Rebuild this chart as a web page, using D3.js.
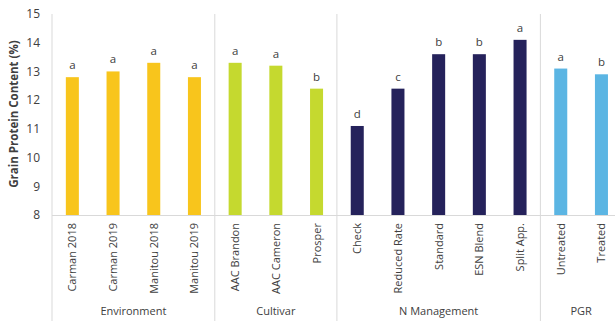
<!DOCTYPE html>
<html>
<head>
<meta charset="utf-8">
<script src="https://cdn.jsdelivr.net/npm/d3@7"></script>
<style>
body { margin: 0; background: #fff; }
text { font-family: "Open Sans", Lato, sans-serif; fill: #404040; }
</style>
</head>
<body>
<div id="chart"></div>
<script>
// data
var categories = ['Carman 2018','Carman 2019','Manitou 2018','Manitou 2019',
    'AAC Brandon','AAC Cameron','Prosper',
    'Check','Reduced Rate','Standard','ESN Blend','Split App.',
    'Untreated','Treated'];
var groupOf = ['Environment','Environment','Environment','Environment',
    'Cultivar','Cultivar','Cultivar',
    'N Management','N Management','N Management','N Management','N Management',
    'PGR','PGR'];
var values = [12.8, 13.0, 13.3, 12.8, 13.3, 13.2, 12.4, 11.1, 12.4, 13.6, 13.6, 14.1, 13.1, 12.9];
var letters = ['a','a','a','a','a','a','b','d','c','b','b','a','a','b'];
var groups = ['Environment','Cultivar','N Management','PGR'];
var groupColors = ['#F8C51C','#C5D92F','#25225B','#5BB5E3'];
var yTicks = [8, 9, 10, 11, 12, 13, 14, 15];

var W = 615, H = 321;
var margin = {top: 14, right: 0, bottom: 106, left: 52};
var bandW = 40.7;
var plotW = bandW * categories.length;
var plotH = H - margin.top - margin.bottom;

var svg = d3.select('#chart').append('svg')
    .attr('width', W)
    .attr('height', H);

var g = svg.append('g')
    .attr('transform', 'translate(' + margin.left + ',' + margin.top + ')');

var x = d3.scaleBand().domain(categories).range([0, plotW]).paddingInner(0.68).paddingOuter(0.34);
var y = d3.scaleLinear().domain([8, 15]).range([plotH, 0]);
var color = d3.scaleOrdinal().domain(groups).range(groupColors);

// y axis labels
g.append('g')
    .call(d3.axisLeft(y).tickValues(yTicks).tickFormat(d3.format('d')).tickSize(0).tickPadding(12))
    .call(function(a){ a.select('.domain').remove(); })
    .selectAll('text')
    .style('font-size', '12px')
    .attr('fill', '#404040');

svg.append('text')
    .attr('transform', 'translate(18,114) rotate(-90)')
    .attr('text-anchor', 'middle')
    .style('font-size', '11.5px')
    .style('font-weight', 'bold')
    .text('Grain Protein Content (%)');

// group boundaries
var bounds = [0];
groups.forEach(function(gr){
    var n = groupOf.filter(function(d){ return d === gr; }).length;
    bounds.push(bounds[bounds.length - 1] + n);
});

g.selectAll('.divider')
    .data(bounds.slice(0, bounds.length - 1))
    .enter().append('line')
    .attr('class', 'divider')
    .attr('x1', function(d){ return d * bandW; })
    .attr('x2', function(d){ return d * bandW; })
    .attr('y1', 0)
    .attr('y2', H)
    .attr('stroke', '#d9d9d9')
    .attr('stroke-width', 1);

g.append('line')
    .attr('x1', 0).attr('x2', plotW)
    .attr('y1', plotH + 0.5).attr('y2', plotH + 0.5)
    .attr('stroke', '#d9d9d9');

// bars
g.selectAll('.bar')
    .data(categories)
    .enter().append('rect')
    .attr('class', 'bar')
    .attr('x', function(d){ return x(d); })
    .attr('y', function(d, i){ return y(values[i]); })
    .attr('width', x.bandwidth())
    .attr('height', function(d, i){ return plotH - y(values[i]); })
    .attr('fill', function(d, i){ return color(groupOf[i]); });

// significance letters
g.selectAll('.letter')
    .data(categories)
    .enter().append('text')
    .attr('class', 'letter')
    .attr('x', function(d){ return x(d) + x.bandwidth() / 2; })
    .attr('y', function(d, i){ return y(values[i]) - 8; })
    .attr('text-anchor', 'middle')
    .style('font-size', '11.5px')
    .text(function(d, i){ return letters[i]; });

// category labels
g.selectAll('.cat')
    .data(categories)
    .enter().append('text')
    .attr('class', 'cat')
    .attr('transform', function(d){
        return 'translate(' + (x(d) + x.bandwidth() / 2 + 4) + ',' + (plotH + 8) + ') rotate(-90)';
    })
    .attr('text-anchor', 'end')
    .style('font-size', '11px')
    .text(function(d){ return d; });

// group labels
g.selectAll('.grp')
    .data(groups)
    .enter().append('text')
    .attr('class', 'grp')
    .attr('x', function(d, i){ return (bounds[i] + bounds[i + 1]) / 2 * bandW; })
    .attr('y', 301)
    .attr('text-anchor', 'middle')
    .style('font-size', '11px')
    .text(function(d){ return d; });
</script>
</body>
</html>
